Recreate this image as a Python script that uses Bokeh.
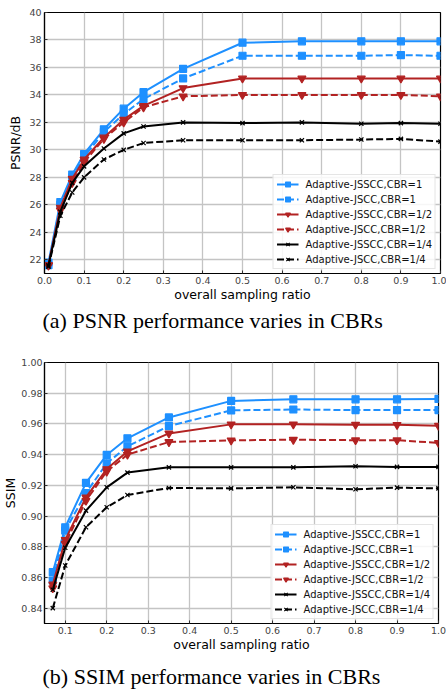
from bokeh.plotting import figure
from bokeh.layouts import column
from bokeh.models import FixedTicker, PrintfTickFormatter, Title, Legend, LegendItem
from bokeh.embed import file_html
from bokeh.resources import INLINE

# ---------------- data ----------------
sr_a = [0.01, 0.04, 0.07, 0.1, 0.15, 0.2, 0.25, 0.35, 0.5, 0.65, 0.8, 0.9, 1.0]
psnr_jsscc_1 = [21.8, 26.2, 28.2, 29.7, 31.5, 33.0, 34.2, 35.9, 37.8, 37.9, 37.9, 37.9, 37.9]
psnr_jscc_1 = [21.6, 26.0, 28.0, 29.5, 31.3, 32.6, 33.7, 35.2, 36.85, 36.85, 36.85, 36.9, 36.85]
psnr_jsscc_12 = [21.6, 25.8, 27.9, 29.3, 30.9, 32.2, 33.2, 34.5, 35.2, 35.2, 35.2, 35.2, 35.2]
psnr_jscc_12 = [21.6, 25.6, 27.6, 29.1, 30.8, 32.0, 33.1, 33.9, 34.0, 34.0, 34.0, 34.0, 33.9]
psnr_jsscc_14 = [21.6, 25.5, 27.6, 28.8, 30.1, 31.2, 31.7, 32.0, 31.95, 32.0, 31.9, 31.95, 31.9]
psnr_jscc_14 = [21.5, 25.2, 26.9, 28.0, 29.3, 30.0, 30.5, 30.7, 30.7, 30.7, 30.75, 30.8, 30.6]

sr_b = [0.07, 0.1, 0.15, 0.2, 0.25, 0.35, 0.5, 0.65, 0.8, 0.9, 1.0]
ssim_jsscc_1 = [0.8634, 0.8927, 0.9216, 0.9398, 0.9506, 0.9642, 0.975, 0.976, 0.976, 0.976, 0.9763]
ssim_jscc_1 = [0.858, 0.8905, 0.915, 0.9343, 0.9454, 0.9586, 0.9688, 0.9694, 0.969, 0.969, 0.969]
ssim_jsscc_12 = [0.8554, 0.8845, 0.9122, 0.9306, 0.9421, 0.9538, 0.9597, 0.9597, 0.9595, 0.9594, 0.9588]
ssim_jscc_12 = [0.853, 0.882, 0.910, 0.929, 0.940, 0.9482, 0.9493, 0.9497, 0.9494, 0.9494, 0.9476]
ssim_jsscc_14 = [0.852, 0.8793, 0.9035, 0.9187, 0.9283, 0.9317, 0.9317, 0.9317, 0.9324, 0.932, 0.932]
ssim_jscc_14 = [0.840, 0.8678, 0.8927, 0.9057, 0.9137, 0.9183, 0.918, 0.9187, 0.9174, 0.9185, 0.918]

labels = ["Adaptive-JSSCC,CBR=1", "Adaptive-JSCC,CBR=1",
          "Adaptive-JSSCC,CBR=1/2", "Adaptive-JSCC,CBR=1/2",
          "Adaptive-JSSCC,CBR=1/4", "Adaptive-JSCC,CBR=1/4"]

xticks_a = [0.0, 0.1, 0.2, 0.3, 0.4, 0.5, 0.6, 0.7, 0.8, 0.9, 1.0]
yticks_a = [22, 24, 26, 28, 30, 32, 34, 36, 38, 40]
xticks_b = [0.1, 0.2, 0.3, 0.4, 0.5, 0.6, 0.7, 0.8, 0.9, 1.0]
yticks_b = [0.84, 0.86, 0.88, 0.90, 0.92, 0.94, 0.96, 0.98, 1.00]

BLUE = "#1E90FF"
RED = "#B22222"
BLACK = "#000000"
styles = [
    (BLUE, "solid", "square", 7),
    (BLUE, "7 3", "square", 7),
    (RED, "solid", "inverted_triangle", 8),
    (RED, "7 3", "inverted_triangle", 8),
    (BLACK, "solid", "x", 6),
    (BLACK, "7 3", "x", 6),
]

FONT = "DejaVu Sans"


def make_fig(xs, series, xr, yr, xticks, yticks, xfmt, yfmt, ylabel, caption,
             fw, top, bottom, cap_standoff, ylab_standoff, ytick_standoff):
    p = figure(frame_width=fw, frame_height=261, x_range=xr, y_range=yr,
               output_backend="svg", toolbar_location=None,
               min_border_left=42, min_border_right=8,
               min_border_top=top, min_border_bottom=bottom)
    p.background_fill_color = "white"
    p.outline_line_color = "black"
    p.outline_line_width = 1.2
    p.xaxis.ticker = FixedTicker(ticks=xticks)
    p.yaxis.ticker = FixedTicker(ticks=yticks)
    p.xaxis.formatter = PrintfTickFormatter(format=xfmt)
    p.yaxis.formatter = PrintfTickFormatter(format=yfmt)
    for ax in (p.xaxis[0], p.yaxis[0]):
        ax.major_label_text_font = FONT
        ax.major_label_text_font_size = "9.5px"
        ax.major_label_text_color = "#444444"
        ax.axis_label_text_font = FONT
        ax.axis_label_text_font_size = "12.5px"
        ax.axis_label_text_font_style = "normal"
        ax.axis_label_text_color = "black"
        ax.major_tick_in = 3
        ax.major_tick_out = 0
        ax.major_tick_line_color = "#333333"
        ax.minor_tick_line_color = None
        ax.axis_line_color = "black"
        ax.axis_line_width = 1.2
    p.xaxis.major_label_standoff = 3
    p.yaxis.major_label_standoff = ytick_standoff
    p.xaxis.axis_label_standoff = 0
    p.yaxis.axis_label_standoff = ylab_standoff
    p.xaxis.axis_label = "overall sampling ratio"
    p.yaxis.axis_label = ylabel
    p.grid.grid_line_color = "#c4c4c4"
    p.grid.grid_line_width = 1.3

    items = []
    for (color, dash, marker, size), ys, lab in zip(styles, series, labels):
        lr = p.line(xs, ys, line_color=color, line_width=2, line_dash=dash)
        sr = p.scatter(xs, ys, marker=marker, size=size, fill_color=color,
                       line_color=color, line_width=1.2)
        items.append(LegendItem(label=lab, renderers=[lr, sr]))
    leg = Legend(items=items, location="bottom_right")
    leg.label_text_font = FONT
    leg.label_text_font_size = "10px"
    leg.label_text_color = "#111111"
    leg.glyph_width = 22
    leg.glyph_height = 12
    leg.label_height = 12
    leg.spacing = 3
    leg.padding = 3
    leg.margin = 4
    leg.label_standoff = 7
    leg.border_line_color = "#cccccc"
    leg.border_line_width = 1
    leg.background_fill_color = "white"
    leg.background_fill_alpha = 0.85
    p.add_layout(leg)

    t = Title(text=caption, align="left", offset=-2,
              text_font="Liberation Serif", text_font_size="22px",
              text_font_style="normal", text_color="black",
              standoff=cap_standoff)
    p.add_layout(t, "below")
    return p


p1 = make_fig(sr_a, [psnr_jsscc_1, psnr_jscc_1, psnr_jsscc_12, psnr_jscc_12,
                     psnr_jsscc_14, psnr_jscc_14],
              (0.0, 1.0), (21.0, 40.0), xticks_a, yticks_a, "%.1f", "%d",
              "PSNR/dB", "(a) PSNR performance varies in CBRs",
              396, 12, 79, 3, 3, 3)
p2 = make_fig(sr_b, [ssim_jsscc_1, ssim_jscc_1, ssim_jsscc_12, ssim_jscc_12,
                     ssim_jsscc_14, ssim_jscc_14],
              (0.05, 1.0), (0.83, 1.0), xticks_b, yticks_b, "%.1f", "%.2f",
              "SSIM", "(b) SSIM performance varies in CBRs",
              394, 10, 71, 15, 0, 2)

layout = column(p1, p2, spacing=0)
open("out.html", "w").write(file_html(layout, INLINE))
